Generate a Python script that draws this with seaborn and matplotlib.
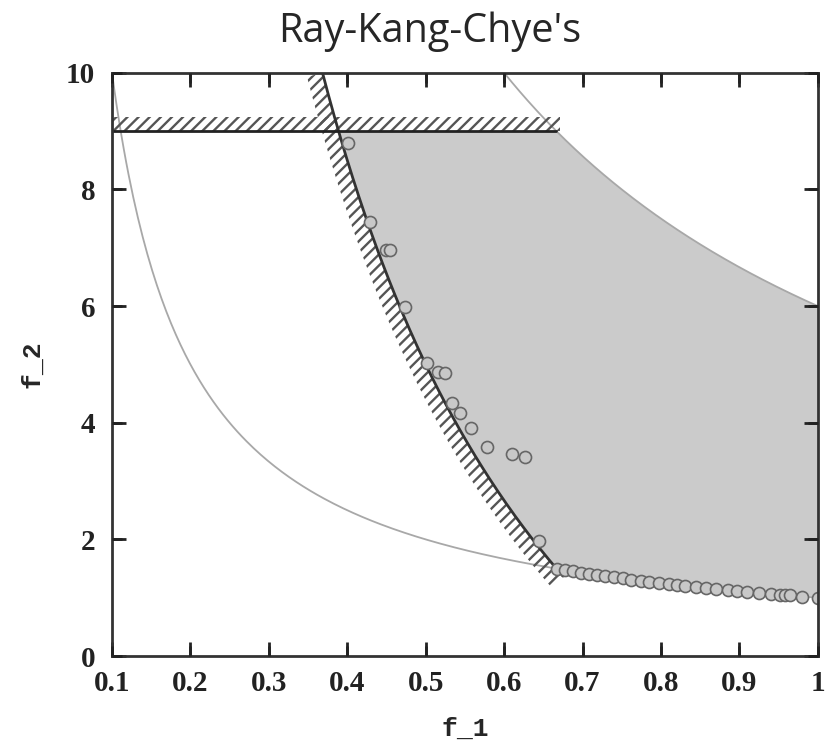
import numpy as np
import pandas as pd
import matplotlib
matplotlib.use("Agg")
import matplotlib.pyplot as plt
import seaborn as sns

# obtained solutions
pts_f1 = [0.401, 0.429, 0.449, 0.455, 0.474, 0.502, 0.516, 0.525, 0.533, 0.544,
          0.558, 0.578, 0.610, 0.627, 0.644,
          0.668, 0.678, 0.688, 0.698, 0.708, 0.718, 0.728, 0.740, 0.752, 0.762,
          0.775, 0.785, 0.797, 0.810, 0.820, 0.830, 0.845, 0.858, 0.870, 0.885,
          0.897, 0.910, 0.925, 0.940, 0.952, 0.958, 0.965, 0.980, 1.000]
pts_f2 = [8.80, 7.44, 6.96, 6.96, 5.99, 5.03, 4.87, 4.85, 4.34, 4.17,
          3.91, 3.58, 3.46, 3.41, 1.97,
          1.50, 1.47, 1.45, 1.43, 1.41, 1.39, 1.37, 1.35, 1.33, 1.31,
          1.29, 1.27, 1.25, 1.23, 1.22, 1.20, 1.18, 1.17, 1.15, 1.13,
          1.11, 1.10, 1.08, 1.06, 1.05, 1.04, 1.04, 1.02, 1.00]

x_ticks = [0.1, 0.2, 0.3, 0.4, 0.5, 0.6, 0.7, 0.8, 0.9, 1.0]
x_tick_labels = ["0.1", "0.2", "0.3", "0.4", "0.5", "0.6", "0.7", "0.8", "0.9", "1"]
y_ticks = [0, 2, 4, 6, 8, 10]

# problem boundaries
f2_cap = 9.0                      # horizontal constraint f2 <= 9
low_k, up_k = 1.0, 6.0            # f2 = k / f1 bounds
g_a, g_b = 7.0, 9.0               # constraint boundary f2 = (a - b f1) / f1

sns.set_style("white", {"xtick.bottom": True, "xtick.top": True,
                        "ytick.left": True, "ytick.right": True,
                        "xtick.direction": "in", "ytick.direction": "in",
                        "axes.axisbelow": False})

fig = plt.figure(figsize=(8.32, 7.43), dpi=100)
ax = fig.add_axes([0.1346, 0.117, 0.8484, 0.785])
ax.set_xlim(0.1, 1.0)
ax.set_ylim(0, 10)

# feasible region
f_top = g_a / (g_b + f2_cap)
f_mid = up_k / f2_cap
c_up = np.linspace(f_mid, 1.0, 100)
c_low = np.linspace(1.0, f_mid, 100)
c_g = np.linspace(f_mid, f_top, 100)
poly_x = np.r_[f_top, c_up, c_low, c_g]
poly_y = np.r_[f2_cap, up_k / c_up, low_k / c_low, (g_a - g_b * c_g) / c_g]
ax.fill(poly_x, poly_y, color="#cbcbcb", lw=0, zorder=1)

# thin bound curves
f_lo = np.linspace(0.1, 1.0, 300)
f_hi = np.linspace(0.6, 1.0, 200)
sns.lineplot(x=f_lo, y=low_k / f_lo, color="#a8a8a8", lw=1.3, sort=False, ax=ax, zorder=2)
sns.lineplot(x=f_hi, y=up_k / f_hi, color="#a8a8a8", lw=1.3, sort=False, ax=ax, zorder=2)

# constraint boundary with hatching on the infeasible side
gx = np.linspace(g_a / (g_b + 10), 0.675, 200)
gy = (g_a - g_b * gx) / gx
sns.lineplot(x=gx, y=gy, color="#333333", lw=2, sort=False, ax=ax, zorder=4)

plt.rcParams["hatch.linewidth"] = 1.7
disp = ax.transData.transform(np.c_[gx, gy])
t = np.gradient(disp, axis=0)
t /= np.linalg.norm(t, axis=1)[:, None]
normal = np.c_[t[:, 1], -t[:, 0]]
off = disp + 16 * normal
strip = ax.transData.inverted().transform(np.r_[disp, off[::-1]])
ax.fill(strip[:, 0], strip[:, 1], facecolor="none", edgecolor="#555555",
        hatch="///", lw=0, zorder=3)

hx = np.array([0.1, f_mid])
sns.lineplot(x=hx, y=[f2_cap, f2_cap], color="#222222", lw=2, ax=ax, zorder=4)
ax.fill_between([0.1, f_mid + 0.004], f2_cap, f2_cap + 0.24, facecolor="none",
                edgecolor="#555555", hatch="///", lw=0, zorder=3)

# solutions
df = pd.DataFrame({"f1": pts_f1, "f2": pts_f2})
sns.scatterplot(data=df, x="f1", y="f2", s=75, color="#c8c8c8",
                edgecolor="#666666", linewidth=1.2, ax=ax, zorder=5)

for sp in ax.spines.values():
    sp.set_color("#333333")
    sp.set_linewidth(2)
    sp.set_zorder(6)

ax.set_xticks(x_ticks)
ax.set_xticklabels(x_tick_labels)
ax.set_yticks(y_ticks)
ax.tick_params(direction="in", length=10, width=2, bottom=True, left=True,
               top=True, right=True, labelsize=21, colors="#222222")
ax.tick_params(axis="x", pad=10)
ax.tick_params(axis="y", pad=12)
for lab in ax.get_xticklabels() + ax.get_yticklabels():
    lab.set_fontfamily("Liberation Serif")
    lab.set_fontweight("bold")

# extra inward tick marks drawn as short segments on every side
tk_x = 10 / (0.8484 * 832)
tk_y = 10 / (0.785 * 743)
for v in x_ticks:
    for a, b in ((0, tk_y), (1 - tk_y, 1)):
        ax.plot([v, v], [a, b], color="#222222", lw=2, transform=ax.get_xaxis_transform(),
                clip_on=False, zorder=7, solid_capstyle="butt")
for v in y_ticks:
    for a, b in ((0, tk_x), (1 - tk_x, 1)):
        ax.plot([a, b], [v, v], color="#222222", lw=2, transform=ax.get_yaxis_transform(),
                clip_on=False, zorder=7, solid_capstyle="butt")

ax.set_xlabel("f_1", family="Liberation Mono", fontweight="bold", fontsize=19, labelpad=14)
ax.set_ylabel("f_2", family="Liberation Mono", fontweight="bold", fontsize=19, labelpad=16)

fig.text(0.516, 0.943, "Ray-Kang-Chye's", ha="center", va="baseline",
         fontsize=28.5, family="Open Sans")

fig.savefig("out.png", dpi=100)
